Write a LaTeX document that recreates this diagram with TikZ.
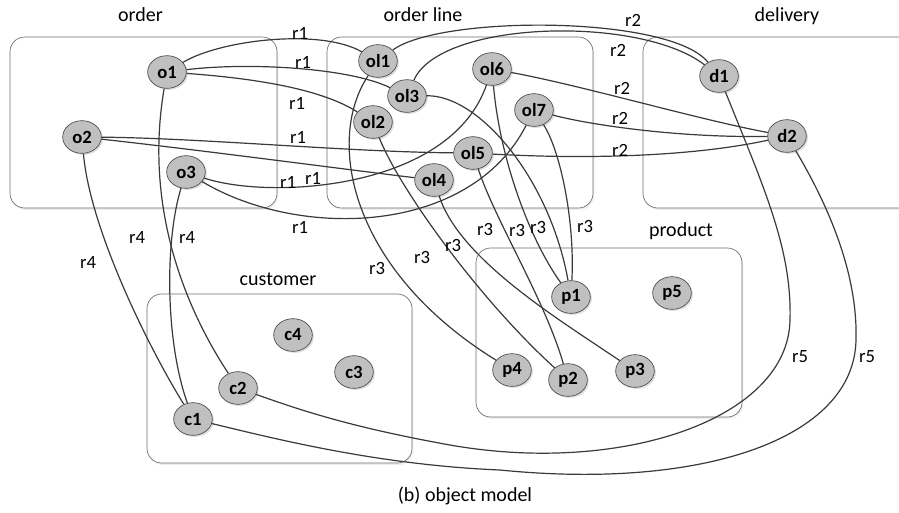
\documentclass[tikz,border=0pt]{standalone}
\usepackage{fontspec}
\setmainfont{Carlito}
\usetikzlibrary{shapes.geometric,shadows}
\definecolor{edgec}{RGB}{58,58,58}
\definecolor{nodef}{RGB}{192,192,192}
\definecolor{boxc}{RGB}{110,110,110}
\begin{document}
\begin{tikzpicture}[x=0.75pt,y=-0.75pt,
 obj/.style={ellipse,draw=black!70,line width=0.5pt,fill=nodef,minimum width=29pt,minimum height=24.5pt,inner sep=0pt,font=\fontsize{14}{16}\selectfont\bfseries,drop shadow={opacity=0.25,shadow xshift=1.2pt,shadow yshift=-1.2pt}},
 grp/.style={draw=boxc,line width=0.5pt,rounded corners=11pt,fill=white,drop shadow={opacity=0.12,shadow xshift=1pt,shadow yshift=-1.5pt}},
 lab/.style={font=\fontsize{14}{16}\selectfont,inner sep=0pt},
 ttl/.style={font=\fontsize{15}{17}\selectfont,inner sep=0pt,anchor=base},
 rel/.style={draw=edgec,line width=0.9pt}]
\useasboundingbox[fill=white] (0,0) rectangle (899,512);

% group boxes
\path[grp] (10,37) rectangle (277,208);
\path[grp] (327,37) rectangle (593,208);
\path[grp] (643,37) rectangle (935,208);
\path[grp] (147,294) rectangle (412,463);
\path[grp] (476,248) rectangle (742,417);

% titles (placed on their baselines)
\node[ttl] (torder) at (140.5,21) {order};
\node[ttl] (tol) at (423,21) {order line};
\node[ttl] (tdel) at (787,21) {delivery};
\node[ttl] (tcus) at (278,285) {customer};
\node[ttl] (tprod) at (681,236) {product};
\node[ttl] (cap) at (465,501) {(b) object model};

% objects
\node[obj] (o1) at (167,72) {o1};
\node[obj] (o2) at (82,137) {o2};
\node[obj] (o3) at (186,172) {o3};
\node[obj] (ol1) at (378,61) {ol1};
\node[obj] (ol3) at (407,96) {ol3};
\node[obj] (ol2) at (373,122) {ol2};
\node[obj] (ol6) at (492,69) {ol6};
\node[obj] (ol7) at (534,110) {ol7};
\node[obj] (ol5) at (473,153) {ol5};
\node[obj] (ol4) at (434,180) {ol4};
\node[obj] (d1) at (719,76) {d1};
\node[obj] (d2) at (787,136) {d2};
\node[obj] (c4) at (293,335) {c4};
\node[obj] (c3) at (354,372) {c3};
\node[obj] (c2) at (238,388) {c2};
\node[obj] (c1) at (193,419) {c1};
\node[obj] (p1) at (571,297) {p1};
\node[obj] (p5) at (672,293) {p5};
\node[obj] (p4) at (512,370) {p4};
\node[obj] (p2) at (568,380) {p2};
\node[obj] (p3) at (635,371) {p3};

% r1
\draw[rel] (o1) .. controls (220,40) and (320,28) .. (ol1);
\draw[rel] (o1) .. controls (250,62) and (350,68) .. (ol3);
\draw[rel] (o1) .. controls (250,78) and (320,88) .. (ol2);
\draw[rel] (o2) .. controls (200,138) and (350,152) .. (ol5);
\draw[rel] (o2) .. controls (200,150) and (350,170) .. (ol4);
\draw[rel] (o3) .. controls (270,200) and (450,190) .. (ol6);
\draw[rel] (o3) .. controls (300,240) and (470,235) .. (ol7);
% r2
\draw[rel] (ol1) .. controls (440,15) and (670,15) .. (d1);
\draw[rel] (ol3) .. controls (440,20) and (640,15) .. (d1);
\draw[rel] (ol6) .. controls (580,85) and (700,120) .. (d2);
\draw[rel] (ol7) .. controls (590,125) and (680,138) .. (d2);
\draw[rel] (ol5) .. controls (600,160) and (700,155) .. (d2);
% r3
\draw[rel] (ol1) .. controls (325,140) and (350,270) .. (p4);
\draw[rel] (ol2) .. controls (400,190) and (480,300) .. (p2);
\draw[rel] (ol3) .. controls (480,95) and (550,180) .. (p1);
\draw[rel] (ol6) .. controls (500,160) and (530,240) .. (p1);
\draw[rel] (ol7) .. controls (560,150) and (575,220) .. (p1);
\draw[rel] (ol4) .. controls (460,260) and (560,320) .. (p3);
\draw[rel] (ol5) .. controls (495,220) and (545,300) .. (p2);
% r4
\draw[rel] (o2) .. controls (90,230) and (150,350) .. (c1);
\draw[rel] (o1) .. controls (145,200) and (180,300) .. (c2);
\draw[rel] (o3) .. controls (165,240) and (165,340) .. (c1);
% r5
\draw[rel] (d1) .. controls (765,190) and (792,250) .. (790,320)
  .. controls (788,420) and (620,475) .. (450,445)
  .. controls (350,427) and (300,410) .. (c2);
\draw[rel] (d2) .. controls (825,200) and (858,270) .. (856,340)
  .. controls (854,440) and (700,490) .. (500,470)
  .. controls (380,465) and (280,440) .. (c1);

% labels
\node[lab] (l1a) at (300,33) {r1};
\node[lab] (l1b) at (303,62) {r1};
\node[lab] (l1c) at (297,103) {r1};
\node[lab] (l1d) at (298,137) {r1};
\node[lab] (l1e) at (288,182) {r1};
\node[lab] (l1f) at (313,178) {r1};
\node[lab] (l1g) at (300,227) {r1};
\node[lab] (l2a) at (633,20) {r2};
\node[lab] (l2b) at (618,50) {r2};
\node[lab] (l2c) at (622,88) {r2};
\node[lab] (l2d) at (620,118) {r2};
\node[lab] (l2e) at (620,150) {r2};
\node[lab] (l3a) at (377,268) {r3};
\node[lab] (l3b) at (422,257) {r3};
\node[lab] (l3c) at (453,245) {r3};
\node[lab] (l3d) at (485,229) {r3};
\node[lab] (l3e) at (517,230) {r3};
\node[lab] (l3f) at (538,227) {r3};
\node[lab] (l3g) at (585,226) {r3};
\node[lab] (l4a) at (88,262) {r4};
\node[lab] (l4b) at (137,237) {r4};
\node[lab] (l4c) at (187,237) {r4};
\node[lab] (l5a) at (800,357) {r5};
\node[lab] (l5b) at (867,357) {r5};
\end{tikzpicture}
\end{document}
